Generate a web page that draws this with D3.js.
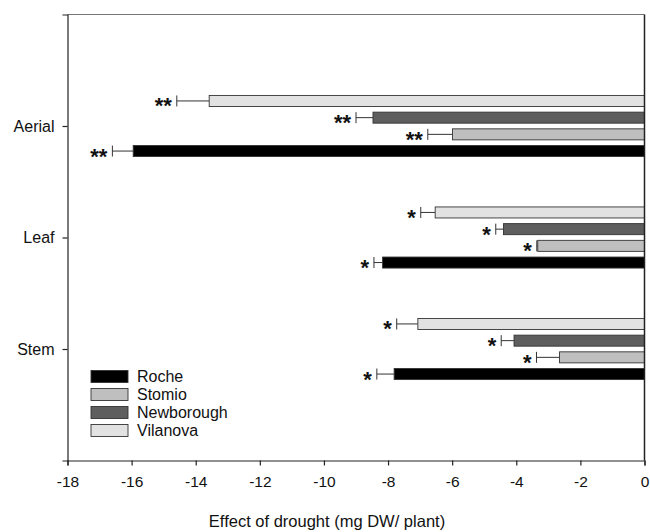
<!DOCTYPE html>
<html>
<head>
<meta charset="utf-8">
<script src="https://cdn.jsdelivr.net/npm/d3@7"></script>
<style>
  body { margin: 0; background: #fff; }
  svg { display: block; font-family: "Liberation Sans", Arial, Helvetica, sans-serif; }
</style>
</head>
<body>
<div id="chart"></div>
<script>
// organs on the y axis, top to bottom
var organs = ["Aerial", "Leaf", "Stem"];
var stars = ["**", "*", "*"];

// populations (legend order) and their fills
var populations = ["Roche", "Stomio", "Newborough", "Vilanova"];
var fills = ["#000000", "#bfbfbf", "#5e5e5e", "#e2e2e2"];

// effect of drought (mg DW / plant) per organ
var roche      = [-15.95, -8.17, -7.81];
var stomio     = [-5.99, -3.33, -2.65];
var newborough = [-8.47, -4.40, -4.07];
var vilanova   = [-13.58, -6.53, -7.07];

// standard errors
var rocheErr      = [0.65, 0.27, 0.54];
var stomioErr     = [0.77, 0.03, 0.72];
var newboroughErr = [0.53, 0.24, 0.40];
var vilanovaErr   = [1.01, 0.45, 0.66];

var xTicks = [-18, -16, -14, -12, -10, -8, -6, -4, -2, 0];

var width = 650, height = 532;
var margin = {top: 14.5, right: 5.5, bottom: 71.5, left: 67.5};
var w = width - margin.left - margin.right,
    h = height - margin.top - margin.bottom;

var means = {Roche: roche, Stomio: stomio, Newborough: newborough, Vilanova: vilanova};
var errs = {Roche: rocheErr, Stomio: stomioErr, Newborough: newboroughErr, Vilanova: vilanovaErr};
var color = d3.scaleOrdinal().domain(populations).range(fills);

var x = d3.scaleLinear().domain([-18, 0]).range([0, w]);
var y = d3.scaleLinear().domain([0, 4]).range([0, h]);
var inner = d3.scaleBand()
    .domain(["Vilanova", "Newborough", "Stomio", "Roche"])
    .range([-33.4, 33.4])
    .paddingInner(0.34)
    .paddingOuter(0.17);

var svg = d3.select("#chart").append("svg")
    .attr("width", width)
    .attr("height", height);

var g = svg.append("g")
    .attr("transform", "translate(" + margin.left + "," + margin.top + ")");

// one row per organ x population
var rows = [];
organs.forEach(function (o, i) {
    populations.forEach(function (p) {
        rows.push({organ: o, i: i, pop: p, v: means[p][i], e: errs[p][i]});
    });
});

function barTop(d) { return y(d.i + 1) + inner(d.pop); }

// error bars (left side only)
var eb = g.selectAll(".err").data(rows).enter().append("g").attr("class", "err");
eb.append("line")
    .attr("x1", function (d) { return x(d.v); })
    .attr("x2", function (d) { return x(d.v - d.e); })
    .attr("y1", function (d) { return barTop(d) + inner.bandwidth() / 2; })
    .attr("y2", function (d) { return barTop(d) + inner.bandwidth() / 2; })
    .attr("stroke", "#333").attr("stroke-width", 1);
eb.append("line")
    .attr("x1", function (d) { return x(d.v - d.e); })
    .attr("x2", function (d) { return x(d.v - d.e); })
    .attr("y1", function (d) { return barTop(d); })
    .attr("y2", function (d) { return barTop(d) + inner.bandwidth(); })
    .attr("stroke", "#333").attr("stroke-width", 1);

g.selectAll(".bar").data(rows).enter().append("rect")
    .attr("class", "bar")
    .attr("x", function (d) { return x(d.v); })
    .attr("width", function (d) { return x(0) - x(d.v); })
    .attr("y", barTop)
    .attr("height", inner.bandwidth())
    .attr("fill", function (d) { return color(d.pop); })
    .attr("stroke", "#333")
    .attr("stroke-width", 0.9);

// significance stars
g.selectAll(".star").data(rows).enter().append("text")
    .attr("class", "star")
    .attr("x", function (d) { return x(d.v - d.e) - 5; })
    .attr("y", function (d) { return barTop(d) + inner.bandwidth() / 2 + 12.5; })
    .attr("text-anchor", "end")
    .attr("font-size", 22)
    .attr("font-weight", "bold")
    .attr("fill", "#111")
    .text(function (d) { return stars[d.i]; });

// frame
g.append("line").attr("x1", 0).attr("x2", w).attr("y1", 0).attr("y2", 0)
    .attr("stroke", "#777").attr("stroke-width", 1.2);
g.append("line").attr("x1", w).attr("x2", w).attr("y1", 0).attr("y2", h)
    .attr("stroke", "#222").attr("stroke-width", 1.5);

// axes
var xAxis = g.append("g")
    .attr("transform", "translate(0," + h + ")")
    .call(d3.axisBottom(x).tickValues(xTicks).tickSize(5).tickPadding(10)
        .tickFormat(function (d) { return String(d); }));
xAxis.selectAll("text").attr("font-size", 15.5).attr("fill", "#111");

var yAxis = g.append("g")
    .call(d3.axisLeft(y).tickValues([1, 2, 3]).tickSize(5).tickPadding(8)
        .tickFormat(function (d) { return organs[d - 1]; }));
yAxis.selectAll("text").attr("font-size", 16).attr("fill", "#111");

[xAxis, yAxis].forEach(function (a) {
    a.select(".domain").attr("stroke", "#222").attr("stroke-width", 1.2);
    a.selectAll(".tick line").attr("stroke", "#222").attr("stroke-width", 1.2);
});

svg.append("text")
    .attr("x", 327)
    .attr("y", 527)
    .attr("text-anchor", "middle")
    .attr("font-size", 16.5)
    .attr("fill", "#111")
    .text("Effect of drought (mg DW/ plant)");

// legend
var legend = g.append("g").attr("transform", "translate(23.5,356)");
var li = legend.selectAll(".li").data(populations).enter().append("g")
    .attr("transform", function (d, i) { return "translate(0," + i * 18 + ")"; });
li.append("rect")
    .attr("width", 37).attr("height", 12)
    .attr("fill", function (d) { return color(d); })
    .attr("stroke", "#333").attr("stroke-width", 0.9);
li.append("text")
    .attr("x", 46).attr("y", 6).attr("dy", "0.35em")
    .attr("font-size", 16).attr("fill", "#111")
    .text(function (d) { return d; });
</script>
</body>
</html>
